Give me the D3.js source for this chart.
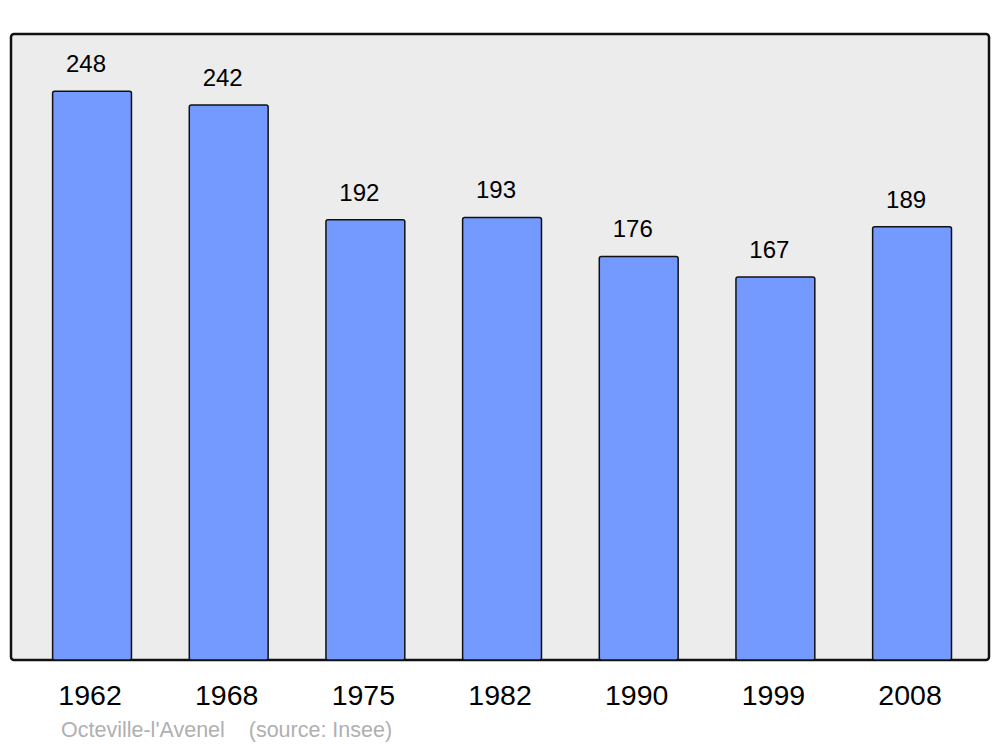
<!DOCTYPE html>
<html><head><meta charset="utf-8">
<script src="https://cdn.jsdelivr.net/npm/d3@7"></script>
<style>body{margin:0;background:#fff}svg{display:block}text{font-family:"Liberation Sans",Arial,sans-serif}</style>
</head><body>
<script>
const years = ["1962","1968","1975","1982","1990","1999","2008"];
const population = [248,242,192,193,176,167,189];
const caption = "Octeville-l'Avenel    (source: Insee)";

const W=1000,H=747;
const frame={x0:11,y0:34,x1:989,y1:660};
const svg=d3.select("body").append("svg").attr("width",W).attr("height",H);

svg.append("rect").attr("x",frame.x0).attr("y",frame.y0)
  .attr("width",frame.x1-frame.x0).attr("height",frame.y1-frame.y0)
  .attr("rx",3).attr("fill","#ececec").attr("stroke","#111").attr("stroke-width",2.5);

const x=d3.scaleBand().domain(years).range([23.7,980.4]).paddingInner(0.423).paddingOuter(0.2115);
const y=d3.scaleLinear().domain([0,d3.max(population)*1.1]).range([frame.y1,frame.y0+0.5]);

const data=years.map((yr,i)=>({yr,v:population[i]}));

svg.append("g").selectAll("rect").data(data).join("rect")
  .attr("x",d=>x(d.yr)).attr("y",d=>y(d.v))
  .attr("width",x.bandwidth()).attr("height",d=>y(0)-y(d.v))
  .attr("rx",2).attr("fill","#7499ff").attr("stroke","#111").attr("stroke-width",1.5);

svg.append("g").selectAll("text").data(data).join("text")
  .attr("x",d=>x(d.yr)+x.bandwidth()/2-6).attr("y",d=>y(d.v)-19)
  .attr("text-anchor","middle").attr("font-size",24).attr("fill","#000")
  .text(d=>d.v);

svg.append("g").selectAll("text").data(years).join("text")
  .attr("x",d=>x(d)+x.bandwidth()/2-2).attr("y",705)
  .attr("text-anchor","middle").attr("font-size",28.5).attr("fill","#000")
  .text(d=>d);

svg.append("text").attr("x",61).attr("y",737).attr("font-size",21.5).attr("fill","#b0b0b0")
  .attr("xml:space","preserve").style("white-space","pre").text(caption);
</script>
</body></html>
